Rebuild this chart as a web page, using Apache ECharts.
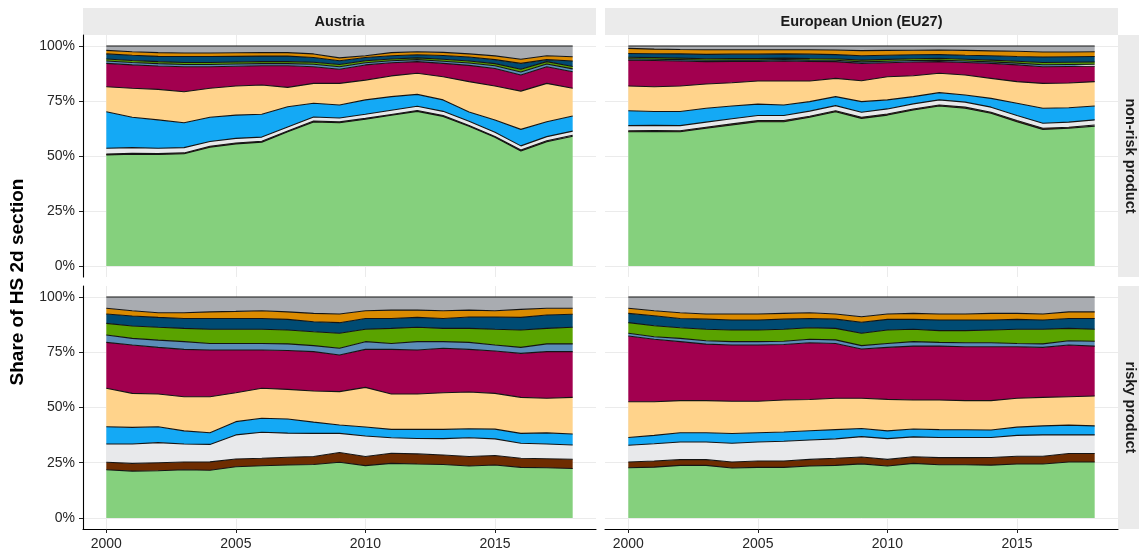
<!DOCTYPE html>
<html><head><meta charset="utf-8">
<script src="https://cdn.jsdelivr.net/npm/echarts@6/dist/echarts.min.js"></script>
<style>html,body{margin:0;padding:0;background:#fff}#c{width:1139px;height:553px}</style>
</head><body><div id="c"></div>
<script>
// ---------------- data ----------------
const years = [2000,2001,2002,2003,2004,2005,2006,2007,2008,2009,2010,2011,2012,2013,2014,2015,2016,2017,2018];
const xTickYears = [2000, 2005, 2010, 2015];
const yTickValues = [0, 25, 50, 75, 100];
const colLabels = ['Austria', 'European Union (EU27)'];
const rowLabels = ['non-risk product', 'risky product'];
const yTitle = 'Share of HS 2d section';
const layerNames = ['section A','section B','section C','section D','section E','section F','section G','section H','section I','section J','section K'];

// cumulative share (%) at the top of each layer, bottom layer first
// Austria, non-risk product
const atNR_1  = [50.5,50.8,50.7,51.0,54.0,55.5,56.3,61.0,65.5,65.1,66.7,68.5,70.3,68.0,63.5,58.5,52.3,56.5,59.0];
const atNR_2  = [50.9,51.2,51.1,51.4,54.4,55.9,56.7,61.4,65.9,65.5,67.1,68.9,70.7,68.4,63.9,58.9,52.7,56.9,59.4];
const atNR_3  = [53.5,53.8,53.5,53.8,56.6,58.0,58.6,63.2,67.7,67.3,69.0,70.8,72.6,70.3,65.8,60.8,54.6,58.8,61.3];
const atNR_4  = [70.1,67.6,66.4,65.1,67.6,68.6,69.0,72.4,74.0,73.2,75.5,77.0,78.0,75.5,70.0,66.4,62.1,65.6,68.2];
const atNR_5  = [81.5,80.8,80.3,79.2,80.8,81.8,82.3,81.2,83.0,83.0,84.5,86.4,87.6,86.0,83.8,81.8,79.5,83.0,80.8];
const atNR_6  = [92.1,91.4,90.9,90.6,90.6,90.8,91.0,91.0,90.6,89.4,91.4,92.4,92.9,92.1,91.2,89.8,86.8,90.6,88.3];
const atNR_7  = [93.2,92.5,92.0,91.6,91.6,91.8,92.0,92.0,91.7,90.6,92.4,93.3,93.8,93.1,92.3,91.0,88.2,91.8,89.6];
const atNR_8  = [94.1,93.4,92.9,92.5,92.5,92.7,92.9,92.9,92.6,91.6,93.3,94.1,94.6,94.0,93.2,92.0,89.4,92.9,90.7];
const atNR_9  = [96.4,95.8,95.3,95.2,95.2,95.3,95.4,95.4,94.8,93.3,94.8,95.6,96.0,95.7,95.0,93.8,92.1,93.8,93.2];
const atNR_10 = [98.0,97.4,97.0,96.8,96.8,96.9,97.0,97.0,96.4,94.6,95.6,97.0,97.4,97.1,96.4,95.5,94.0,95.6,95.1];
const atNR_11 = [100,100,100,100,100,100,100,100,100,100,100,100,100,100,100,100,100,100,100];

// European Union (EU27), non-risk product
const euNR_1  = [61.0,61.1,61.0,62.6,64.1,65.6,65.6,67.6,70.1,67.1,68.6,70.9,72.7,71.7,69.4,65.6,62.1,62.6,63.6];
const euNR_2  = [61.5,61.6,61.5,63.1,64.6,66.1,66.1,68.1,70.6,67.6,69.1,71.4,73.2,72.2,69.9,66.1,62.6,63.1,64.1];
const euNR_3  = [63.8,63.9,63.8,65.4,66.9,68.4,68.4,70.4,72.9,69.9,71.4,73.7,75.5,74.5,72.2,68.4,64.9,65.4,66.4];
const euNR_4  = [70.6,70.2,70.2,71.7,72.7,73.6,73.2,74.7,77.0,74.7,75.5,77.0,78.8,77.7,76.2,74.0,71.7,71.9,72.7];
const euNR_5  = [81.8,81.5,81.8,82.7,83.3,84.1,84.1,84.1,85.3,84.2,86.0,86.5,87.6,86.8,85.3,83.8,83.0,83.2,83.8];
const euNR_6  = [93.6,93.4,93.2,92.9,93.0,93.0,93.2,93.0,92.9,92.1,92.4,92.7,92.9,92.5,92.1,91.4,90.6,90.7,90.8];
const euNR_7  = [94.2,94.0,93.8,93.5,93.6,93.6,93.8,93.6,93.5,92.8,93.1,93.4,93.6,93.2,92.8,92.2,91.5,91.6,91.7];
const euNR_8  = [94.9,94.7,94.5,94.2,94.3,94.3,94.5,94.3,94.2,93.6,93.9,94.2,94.4,94.0,93.6,93.1,92.5,92.6,92.7];
const euNR_9  = [96.6,96.5,96.4,96.2,96.3,96.3,96.4,96.3,96.1,95.6,95.8,96.0,96.1,95.8,95.6,95.2,95.0,95.1,95.2];
const euNR_10 = [98.9,98.6,98.4,98.3,98.3,98.3,98.3,98.3,98.2,97.9,98.0,98.1,98.2,98.0,97.8,97.6,97.3,97.3,97.4];
const euNR_11 = [100,100,100,100,100,100,100,100,100,100,100,100,100,100,100,100,100,100,100];

// Austria, risky product
const atR_1  = [21.8,21.2,21.4,21.8,21.6,23.2,23.6,24.0,24.2,25.2,23.7,24.7,24.4,24.2,23.5,24.0,22.9,22.7,22.4];
const atR_2  = [25.2,24.7,25.0,25.3,25.4,26.7,27.0,27.5,27.8,29.6,27.8,29.3,29.0,28.5,27.8,28.3,27.0,26.8,26.6];
const atR_3  = [33.5,33.5,34.1,33.5,33.3,37.6,38.8,38.4,38.3,38.3,37.1,36.3,36.0,35.9,36.3,35.8,33.8,33.5,33.0];
const atR_4  = [41.3,41.0,41.3,39.4,38.6,43.6,45.1,44.8,43.4,42.1,41.2,40.1,40.1,40.1,40.4,40.2,38.3,38.5,38.0];
const atR_5  = [58.7,56.4,56.1,54.9,54.9,56.7,58.7,58.2,57.5,57.2,59.1,56.1,56.1,56.7,57.0,56.4,54.6,54.2,54.6];
const atR_6  = [79.5,78.3,77.2,76.3,76.0,76.0,76.0,75.8,75.3,73.8,76.3,76.3,76.0,76.8,76.3,75.6,74.5,75.3,75.3];
const atR_7  = [82.8,81.3,80.5,79.8,79.0,79.0,79.0,78.8,78.0,76.8,79.8,79.0,79.8,79.8,79.5,78.3,77.2,78.8,78.8];
const atR_8  = [88.1,86.9,86.3,85.8,85.4,85.4,85.4,85.1,84.3,83.6,85.4,85.8,86.3,85.8,85.8,85.4,85.1,85.8,86.3];
const atR_9  = [92.3,91.4,90.8,90.3,90.3,90.3,90.3,89.9,88.8,88.4,90.3,90.3,90.8,90.3,91.0,91.0,90.8,91.9,92.2];
const atR_10 = [94.9,93.8,92.9,92.9,93.3,93.5,93.8,93.3,92.6,92.3,93.8,94.1,94.1,93.8,94.1,93.8,94.4,94.9,94.9];
const atR_11 = [100,100,100,100,100,100,100,100,100,100,100,100,100,100,100,100,100,100,100];

// European Union (EU27), risky product
const euR_1  = [22.7,23.0,23.8,23.8,22.6,22.9,22.9,23.5,23.8,24.5,23.5,24.7,24.1,24.1,23.9,24.4,24.4,25.3,25.3];
const euR_2  = [25.3,25.8,26.4,26.4,25.3,25.8,25.8,26.5,27.0,27.6,26.5,27.7,27.3,27.3,27.4,27.9,27.9,29.2,29.2];
const euR_3  = [32.9,33.6,34.4,34.4,33.8,34.4,34.7,35.3,35.8,36.8,35.9,36.7,36.4,36.4,36.4,37.4,37.6,37.6,37.6];
const euR_4  = [36.4,37.4,38.6,38.6,38.2,38.6,38.9,39.5,40.0,40.5,39.4,40.3,40.0,39.9,39.8,41.1,41.7,42.0,41.7];
const euR_5  = [52.6,52.6,53.1,53.1,52.8,52.8,53.4,53.6,54.2,54.2,53.7,53.4,53.4,53.1,53.1,54.2,54.6,54.9,55.2];
const euR_6  = [82.4,80.9,79.8,78.7,78.3,78.3,78.5,79.3,79.0,76.5,77.2,77.8,77.8,77.5,77.5,77.5,77.2,78.3,77.8];
const euR_7  = [83.6,82.0,81.3,80.2,79.8,79.8,80.0,80.9,80.6,78.0,79.0,79.8,79.5,79.3,79.3,79.0,78.8,80.2,80.0];
const euR_8  = [88.4,87.0,86.1,85.4,85.1,85.1,85.4,86.1,85.8,83.6,85.1,85.4,84.8,84.8,85.1,85.4,85.4,85.8,85.4];
const euR_9  = [92.6,91.5,90.3,90.0,89.6,89.6,90.0,90.3,90.0,88.6,89.9,89.9,89.6,89.6,89.6,89.9,89.6,90.3,90.3];
const euR_10 = [94.9,93.8,92.9,92.3,92.3,92.3,92.6,92.9,92.3,91.1,92.3,92.6,92.3,92.3,92.6,92.6,92.3,93.3,93.3];
const euR_11 = [100,100,100,100,100,100,100,100,100,100,100,100,100,100,100,100,100,100,100];

// ---------------- styling / layout ----------------
const fills = ['#85D07D','#6E2C00','#E8E9EB','#14A9F5','#FFD38B','#A2004F','#5B8DB8','#5AA300','#004B73','#DB8B00','#A9ACB1'];
const FONT = '"Liberation Sans", Arial, Helvetica, sans-serif';
const panelData = [
  [atNR_1,atNR_2,atNR_3,atNR_4,atNR_5,atNR_6,atNR_7,atNR_8,atNR_9,atNR_10,atNR_11],
  [euNR_1,euNR_2,euNR_3,euNR_4,euNR_5,euNR_6,euNR_7,euNR_8,euNR_9,euNR_10,euNR_11],
  [atR_1,atR_2,atR_3,atR_4,atR_5,atR_6,atR_7,atR_8,atR_9,atR_10,atR_11],
  [euR_1,euR_2,euR_3,euR_4,euR_5,euR_6,euR_7,euR_8,euR_9,euR_10,euR_11]
];
const colX = [{left:83, width:513}, {left:605, width:513}];
const rowY = [{top:35, height:242}, {top:286, height:243}];
const panels = [{r:0,c:0},{r:0,c:1},{r:1,c:0},{r:1,c:1}];

const grids = [], xAxes = [], yAxes = [], series = [];
panels.forEach((p, i) => {
  grids.push({left: colX[p.c].left, width: colX[p.c].width, top: rowY[p.r].top, height: rowY[p.r].height,
    outerBoundsMode: 'none', containLabel: false, show: false});
  const bottomRow = p.r === 1, leftCol = p.c === 0;
  xAxes.push({
    type: 'value', gridIndex: i, min: 1999.1, max: 2018.9,
    axisLine: {show: bottomRow, onZero: false, lineStyle: {color: '#000', width: 1.1}},
    axisTick: {show: bottomRow, customValues: xTickYears, length: 4, lineStyle: {color: '#222', width: 1}},
    axisLabel: {show: bottomRow, customValues: xTickYears, formatter: v => String(v), color: '#262626', fontSize: 14, fontFamily: FONT, margin: 8},
    splitLine: {show: true, lineStyle: {color: '#EBEBEB', width: 1}},
    minorSplitLine: {show: false}
  });
  yAxes.push({
    type: 'value', gridIndex: i, min: -5, max: 105,
    axisLine: {show: leftCol, lineStyle: {color: '#000', width: 1.1}},
    axisTick: {show: leftCol, customValues: yTickValues, length: 4, lineStyle: {color: '#222', width: 1}},
    axisLabel: {show: leftCol, customValues: yTickValues, formatter: v => v + '%', color: '#262626', fontSize: 14, fontFamily: FONT, margin: 8},
    splitLine: {show: true, lineStyle: {color: '#EBEBEB', width: 1}}
  });
  const cum = panelData[i];
  const stackId = 'panel' + i;
  // stacked areas: each layer's own share = its top minus the top of the layer below.
  // value is put in column 0 so ECharts stacks the y dimension.
  for (let l = 0; l < cum.length; l++) {
    series.push({
      type: 'line', name: layerNames[l], xAxisIndex: i, yAxisIndex: i, stack: stackId,
      encode: {x: 1, y: 0},
      data: years.map((yr, k) => [+(cum[l][k] - (l ? cum[l - 1][k] : 0)).toFixed(2), yr]),
      showSymbol: false, symbol: 'none', silent: true, animation: false,
      lineStyle: {width: 0, opacity: 0},
      areaStyle: {color: fills[l], opacity: 1},
      z: 2
    });
  }
  // outlines at each layer's top
  for (let l = 0; l < cum.length; l++) {
    series.push({
      type: 'line', name: layerNames[l] + ' outline', xAxisIndex: i, yAxisIndex: i,
      data: years.map((yr, k) => [yr, cum[l][k]]),
      showSymbol: false, symbol: 'none', silent: true, animation: false,
      lineStyle: {width: 1.1, color: '#141414'},
      z: 3
    });
  }
});

const graphics = [];
colLabels.forEach((t, c) => {
  graphics.push({type: 'rect', shape: {x: colX[c].left, y: 8, width: colX[c].width, height: 27}, style: {fill: '#EBEBEB'}, silent: true});
  graphics.push({type: 'text', x: colX[c].left + colX[c].width / 2, y: 21.5,
    style: {text: t, font: 'bold 14.5px ' + FONT, fill: '#1a1a1a', textAlign: 'center', textVerticalAlign: 'middle'}, silent: true});
});
rowLabels.forEach((t, r) => {
  graphics.push({type: 'rect', shape: {x: 1118, y: rowY[r].top, width: 27, height: rowY[r].height}, style: {fill: '#EBEBEB'}, silent: true});
  graphics.push({type: 'text', x: 1130, y: rowY[r].top + rowY[r].height / 2, rotation: -Math.PI / 2,
    style: {text: t, font: 'bold 14.5px ' + FONT, fill: '#1a1a1a', textAlign: 'center', textVerticalAlign: 'middle'}, silent: true});
});
graphics.push({type: 'text', x: 18, y: 282, rotation: Math.PI / 2,
  style: {text: yTitle, font: 'bold 19px ' + FONT, fill: '#000', textAlign: 'center', textVerticalAlign: 'middle'}, silent: true});

const chart = echarts.init(document.getElementById('c'), null, {renderer: 'canvas'});
chart.setOption({
  animation: false,
  backgroundColor: '#fff',
  grid: grids, xAxis: xAxes, yAxis: yAxes, series: series,
  graphic: graphics
});
</script></body></html>
